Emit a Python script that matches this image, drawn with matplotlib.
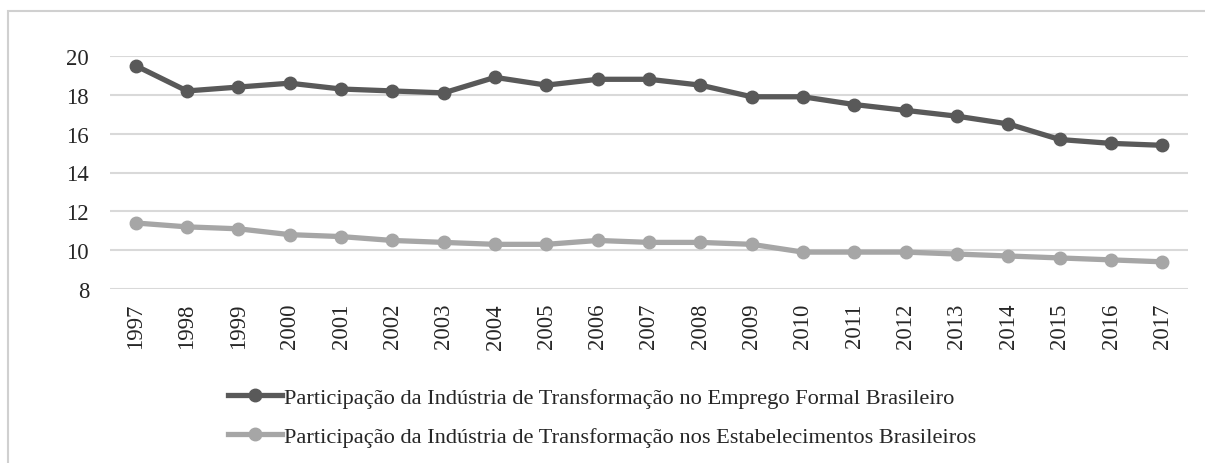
import matplotlib
matplotlib.use('Agg')
import matplotlib.pyplot as plt
import matplotlib.patches as mpatches

plt.rcParams['font.family'] = ['Liberation Serif', 'DejaVu Serif']

anos = ['1997', '1998', '1999', '2000', '2001', '2002', '2003', '2004', '2005', '2006', '2007',
        '2008', '2009', '2010', '2011', '2012', '2013', '2014', '2015', '2016', '2017']
emprego = [19.5, 18.2, 18.4, 18.6, 18.3, 18.2, 18.1, 18.9, 18.5, 18.8, 18.8,
           18.5, 17.9, 17.9, 17.5, 17.2, 16.9, 16.5, 15.7, 15.5, 15.4]
estabelecimentos = [11.4, 11.2, 11.1, 10.8, 10.7, 10.5, 10.4, 10.3, 10.3, 10.5, 10.4,
                    10.4, 10.3, 9.9, 9.9, 9.9, 9.8, 9.7, 9.6, 9.5, 9.4]
yticks = [8, 10, 12, 14, 16, 18, 20]

nome_emprego = 'Participação da Indústria de Transformação no Emprego Formal Brasileiro'
nome_estab = 'Participação da Indústria de Transformação nos Estabelecimentos Brasileiros'

fig = plt.figure(figsize=(12.05, 4.64), dpi=100)
ax = fig.add_axes([110 / 1205, 1 - 290 / 464, (1188 - 110) / 1205, (290 - 57) / 464])

# moldura do gráfico (só aparecem topo e esquerda)
fig.patches.append(mpatches.Rectangle((8 / 1205, -0.1), 1.2, 1 - 12 / 464 + 0.1,
                                      transform=fig.transFigure, fill=False,
                                      edgecolor='#d0d0d0', linewidth=1.5))

x = list(range(len(anos)))
ax.plot(x, emprego, color='#595959', linewidth=3.8, marker='o', markersize=9,
        label=nome_emprego, zorder=3)
ax.plot(x, estabelecimentos, color='#a6a6a6', linewidth=3.8, marker='o', markersize=9,
        label=nome_estab, zorder=3)

ax.set_xlim(-0.5, len(anos) - 0.5)
ax.set_ylim(8, 20)
ax.set_yticks(yticks)
ax.set_xticks(x)
ax.set_xticklabels(anos, rotation=90)
ax.grid(axis='y', color='#d9d9d9', linewidth=1.5)
ax.set_axisbelow(True)
for s in ax.spines.values():
    s.set_visible(False)
ax.tick_params(axis='both', length=0, labelsize=16.4, colors='#262626')
ax.tick_params(axis='y', pad=15)
ax.tick_params(axis='x', pad=10)

fig.legend(loc='center', bbox_to_anchor=(602 / 1205, 1 - 418 / 464), frameon=False,
           fontsize=16.1, handlelength=2.4, handletextpad=0.1, labelspacing=0.8,
           labelcolor='#262626')

fig.savefig('out.png', dpi=100)
